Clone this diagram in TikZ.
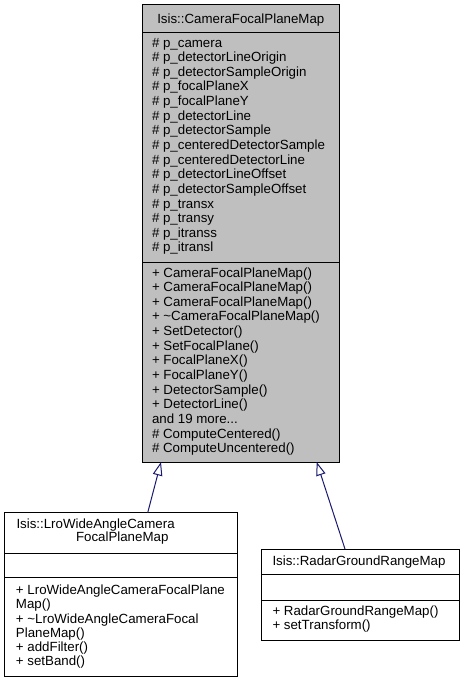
\documentclass[tikz,border=0pt]{standalone}
\usepackage{fontspec}
\setmainfont{Liberation Sans}
\usetikzlibrary{arrows.meta,calc}
\definecolor{grey75}{HTML}{BFBFBF}
\definecolor{edgeblue}{HTML}{191970}
\newcommand{\threedots}{...}
\begin{document}
\begin{tikzpicture}[x=1pt,y=-1pt,
  cls/.style={draw=black, line width=1pt, rectangle, inner sep=0pt, outer sep=0pt, anchor=north west},
  divider/.style={draw=black, line width=1pt},
  txt/.style={anchor=base west, inner sep=0pt, outer sep=0pt, font=\fontsize{13.3}{14.6}\selectfont},
  ctxt/.style={anchor=base, inner sep=0pt, outer sep=0pt, font=\fontsize{13.3}{14.6}\selectfont},
  inh/.style={draw=edgeblue, line width=1pt, -{Triangle[open, length=13.5pt, width=9.5pt]}},
]
\useasboundingbox (0,0) rectangle (463,683);

% ---- main class ----
\node[cls, fill=grey75, minimum width=196.3pt, minimum height=457.7pt] (main) at (142.7,4.3) {};
\draw[divider] (main.west |- 0,32.7) -- (main.east |- 0,32.7);
\draw[divider] (main.west |- 0,262.7) -- (main.east |- 0,262.7);
\node[ctxt] (mtitle) at (240.8,23) {Isis::CameraFocalPlaneMap};
\foreach \t [count=\i from 0] in {%
  {\# p\_camera},{\# p\_detectorLineOrigin},{\# p\_detectorSampleOrigin},
  {\# p\_focalPlaneX},{\# p\_focalPlaneY},{\# p\_detectorLine},
  {\# p\_detectorSample},{\# p\_centeredDetectorSample},{\# p\_centeredDetectorLine},
  {\# p\_detectorLineOffset},{\# p\_detectorSampleOffset},{\# p\_transx},
  {\# p\_transy},{\# p\_itranss},{\# p\_itransl}}
  \node[txt] (ma\i) at (152,47+\i*14.64) {\t};
\foreach \t [count=\i from 0] in {%
  {+ CameraFocalPlaneMap()},{+ CameraFocalPlaneMap()},{+ CameraFocalPlaneMap()},
  {+ \textasciitilde CameraFocalPlaneMap()},{+ SetDetector()},{+ SetFocalPlane()},
  {+ FocalPlaneX()},{+ FocalPlaneY()},{+ DetectorSample()},{+ DetectorLine()},
  {and 19 more\threedots},{\# ComputeCentered()},{\# ComputeUncentered()}}
  \node[txt] (mm\i) at (152,277+\i*14.64) {\t};

% ---- LroWideAngleCameraFocalPlaneMap ----
\node[cls, fill=white, minimum width=232.6pt, minimum height=163.3pt] (lro) at (4.7,512.7) {};
\draw[divider] (lro.west |- 0,553.3) -- (lro.east |- 0,553.3);
\draw[divider] (lro.west |- 0,577.7) -- (lro.east |- 0,577.7);
\node[txt] (lt1) at (16.5,528) {Isis::LroWideAngleCamera};
\node[txt] (lt2) at (76,541.8) {FocalPlaneMap};
\foreach \t [count=\i from 0] in {%
  {+ LroWideAngleCameraFocalPlane},{Map()},{+ \textasciitilde LroWideAngleCameraFocal},
  {PlaneMap()},{+ addFilter()},{+ setBand()}}
  \node[txt] (lm\i) at (16,594.4+\i*14.3) {\t};

% ---- RadarGroundRangeMap ----
\node[cls, fill=white, minimum width=197.6pt, minimum height=91pt] (radar) at (261.7,549) {};
\draw[divider] (radar.west |- 0,574) -- (radar.east |- 0,574);
\draw[divider] (radar.west |- 0,600) -- (radar.east |- 0,600);
\node[txt] (rt) at (272.5,565.7) {Isis::RadarGroundRangeMap};
\node[txt] (rm0) at (272.5,615) {+ RadarGroundRangeMap()};
\node[txt] (rm1) at (272.5,629.8) {+ setTransform()};

% ---- inheritance edges ----
\coordinate (lroend) at ($(lro.north west)+(143,0)$);
\coordinate (mainl) at ($(main.south west)+(18.3,0)$);
\coordinate (radend) at ($(radar.north west)+(83.3,0)$);
\coordinate (mainr) at ($(main.south west)+(174,0)$);
\draw[inh] (lroend) -- (mainl);
\draw[inh] (radend) -- (mainr);
\end{tikzpicture}
\end{document}
